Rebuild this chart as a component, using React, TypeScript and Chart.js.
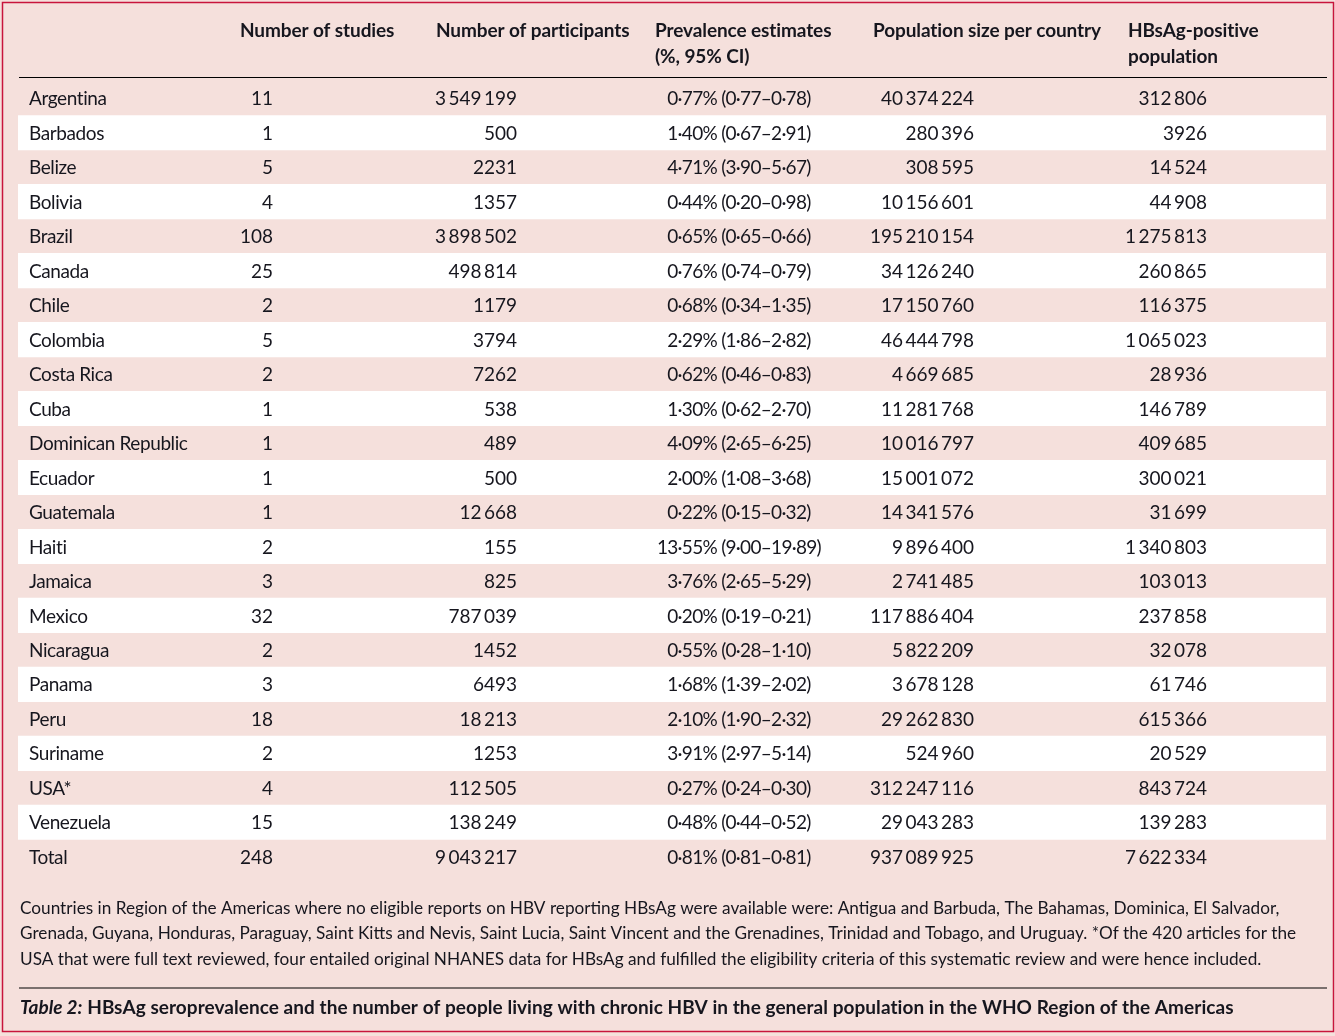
import React, { useEffect, useRef } from "react";
import { Chart, registerables } from "chart.js";

Chart.register(...registerables);

const countries = ["Argentina", "Barbados", "Belize", "Bolivia", "Brazil", "Canada", "Chile", "Colombia", "Costa Rica", "Cuba", "Dominican Republic", "Ecuador", "Guatemala", "Haiti", "Jamaica", "Mexico", "Nicaragua", "Panama", "Peru", "Suriname", "USA*", "Venezuela", "Total"];
const studies = [11, 1, 5, 4, 108, 25, 2, 5, 2, 1, 1, 1, 1, 2, 3, 32, 2, 3, 18, 2, 4, 15, 248];
const participants = [3549199, 500, 2231, 1357, 3898502, 498814, 1179, 3794, 7262, 538, 489, 500, 12668, 155, 825, 787039, 1452, 6493, 18213, 1253, 112505, 138249, 9043217];
const prevalence = [0.77, 1.40, 4.71, 0.44, 0.65, 0.76, 0.68, 2.29, 0.62, 1.30, 4.09, 2.00, 0.22, 13.55, 3.76, 0.20, 0.55, 1.68, 2.10, 3.91, 0.27, 0.48, 0.81];
const ciLow = [0.77, 0.67, 3.90, 0.20, 0.65, 0.74, 0.34, 1.86, 0.46, 0.62, 2.65, 1.08, 0.15, 9.00, 2.65, 0.19, 0.28, 1.39, 1.90, 2.97, 0.24, 0.44, 0.81];
const ciHigh = [0.78, 2.91, 5.67, 0.98, 0.66, 0.79, 1.35, 2.82, 0.83, 2.70, 6.25, 3.68, 0.32, 19.89, 5.29, 0.21, 1.10, 2.02, 2.32, 5.14, 0.30, 0.52, 0.81];
const populations = [40374224, 280396, 308595, 10156601, 195210154, 34126240, 17150760, 46444798, 4669685, 11281768, 10016797, 15001072, 14341576, 9896400, 2741485, 117886404, 5822209, 3678128, 29262830, 524960, 312247116, 29043283, 937089925];
const positives = [312806, 3926, 14524, 44908, 1275813, 260865, 116375, 1065023, 28936, 146789, 409685, 300021, 31699, 1340803, 103013, 237858, 32078, 61746, 615366, 20529, 843724, 139283, 7622334];

const headerLines = [
  ["Number of studies", ""],
  ["Number of participants", ""],
  ["Prevalence estimates", "(%, 95% CI)"],
  ["Population size per country", ""],
  ["HBsAg-positive", "population"],
];
const footnoteLines = [
  "Countries in Region of the Americas where no eligible reports on HBV reporting HBsAg were available were: Antigua and Barbuda, The Bahamas, Dominica, El Salvador,",
  "Grenada, Guyana, Honduras, Paraguay, Saint Kitts and Nevis, Saint Lucia, Saint Vincent and the Grenadines, Trinidad and Tobago, and Uruguay. *Of the 420 articles for the",
  "USA that were full text reviewed, four entailed original NHANES data for HBsAg and fulfilled the eligibility criteria of this systematic review and were hence included.",
];
const captionLabel = "Table 2:";
const captionText = " HBsAg seroprevalence and the number of people living with chronic HBV in the general population in the WHO Region of the Americas";

const PINK = "#f5e0dc";
const INK = "#16161e";
const FONT = "Lato, 'Open Sans', sans-serif";

function fmtInt(n: number): string {
  const s = String(n);
  if (s.length <= 4) return s;
  return s.replace(/\B(?=(\d{3})+(?!\d))/g, "\u2009");
}
function fmtDec(n: number): string {
  return n.toFixed(2).replace(".", "\u00b7");
}

const tablePlugin = {
  id: "tableText",
  beforeDraw(chart: any) {
    const ctx = chart.ctx;
    ctx.save();
    ctx.fillStyle = PINK;
    ctx.fillRect(0, 0, chart.width, chart.height);
    ctx.restore();
  },
  afterDraw(chart: any) {
    const ctx = chart.ctx;
    const area = chart.chartArea;
    const yScale = chart.scales.y;
    ctx.save();
    ctx.fillStyle = INK;
    ctx.textBaseline = "middle";

    // header
    ctx.font = `bold 19px ${FONT}`;
    ctx.letterSpacing = "-0.1px";
    const headerX = [240, 436, 655, 873, 1128];
    headerLines.forEach((lines, i) => {
      ctx.textAlign = "left";
      ctx.fillText(lines[0], headerX[i], 31);
      if (lines[1]) ctx.fillText(lines[1], headerX[i], 57);
    });
    ctx.strokeStyle = "#000";
    ctx.lineWidth = 1.2;
    ctx.beginPath();
    ctx.moveTo(area.left + 1, area.top - 3.5);
    ctx.lineTo(area.right + 1, area.top - 3.5);
    ctx.stroke();

    // rows
    ctx.font = `19px ${FONT}`;
    countries.forEach((c, i) => {
      const y = yScale.getPixelForValue(i) + 1;
      ctx.letterSpacing = "-0.4px";
      ctx.textAlign = "left";
      ctx.fillText(c, 29, y);
      ctx.letterSpacing = "0px";
      ctx.textAlign = "right";
      ctx.fillText(fmtInt(studies[i]), 273, y);
      ctx.fillText(fmtInt(participants[i]), 517, y);
      ctx.letterSpacing = "-0.7px";
      ctx.fillText(fmtDec(prevalence[i]) + "%", 717, y);
      ctx.textAlign = "left";
      ctx.fillText(` (${fmtDec(ciLow[i])}\u2013${fmtDec(ciHigh[i])})`, 717, y);
      ctx.letterSpacing = "0px";
      ctx.textAlign = "right";
      ctx.fillText(fmtInt(populations[i]), 974, y);
      ctx.fillText(fmtInt(positives[i]), 1207, y);
    });

    // footnote
    ctx.font = `17.2px ${FONT}`;
    ctx.textAlign = "left";
    footnoteLines.forEach((l, i) => {
      ctx.fillText(l, 20, 908 + i * 25.7);
    });

    // separator
    ctx.strokeStyle = "#000";
    ctx.lineWidth = 1.2;
    ctx.beginPath();
    ctx.moveTo(19, 988);
    ctx.lineTo(1327, 988);
    ctx.stroke();

    // caption
    ctx.font = `italic bold 19px ${FONT}`;
    ctx.fillText(captionLabel, 20, 1008);
    const w = ctx.measureText(captionLabel).width;
    ctx.font = `bold 19px ${FONT}`;
    ctx.letterSpacing = "0.05px";
    ctx.fillText(captionText, 20 + w, 1008);
    ctx.letterSpacing = "0px";

    // frame
    ctx.strokeStyle = "#c8143c";
    ctx.lineWidth = 1.5;
    ctx.strokeRect(2.5, 2.5, chart.width - 4, 1029);
    ctx.restore();
  },
};

export default function App() {
  const ref = useRef<HTMLCanvasElement | null>(null);
  useEffect(() => {
    if (!ref.current) return;
    const stripes = countries.map((_, i) => (i % 2 === 1 ? [0, 1] : null));
    const chart = new Chart(ref.current, {
      type: "bar",
      data: {
        labels: countries,
        datasets: [
          {
            data: stripes as any,
            backgroundColor: "#ffffff",
            borderWidth: 0,
            borderSkipped: false,
            barPercentage: 1,
            categoryPercentage: 1,
          },
        ],
      },
      options: {
        indexAxis: "y",
        animation: false,
        responsive: false,
        devicePixelRatio: 1,
        layout: { padding: { left: 18, right: 9, top: 81, bottom: 162 } },
        scales: {
          x: { type: "linear", min: 0, max: 1, display: false },
          y: { type: "category", display: false, offset: true },
        },
        plugins: { legend: { display: false }, tooltip: { enabled: false }, title: { display: false } },
      },
      plugins: [tablePlugin],
    });
    return () => chart.destroy();
  }, []);
  return (
    <div style={{ position: "absolute", left: 0, top: 0, width: 1335, height: 1036 }}>
      <canvas ref={ref} width={1335} height={1036} style={{ display: "block" }} />
    </div>
  );
}
